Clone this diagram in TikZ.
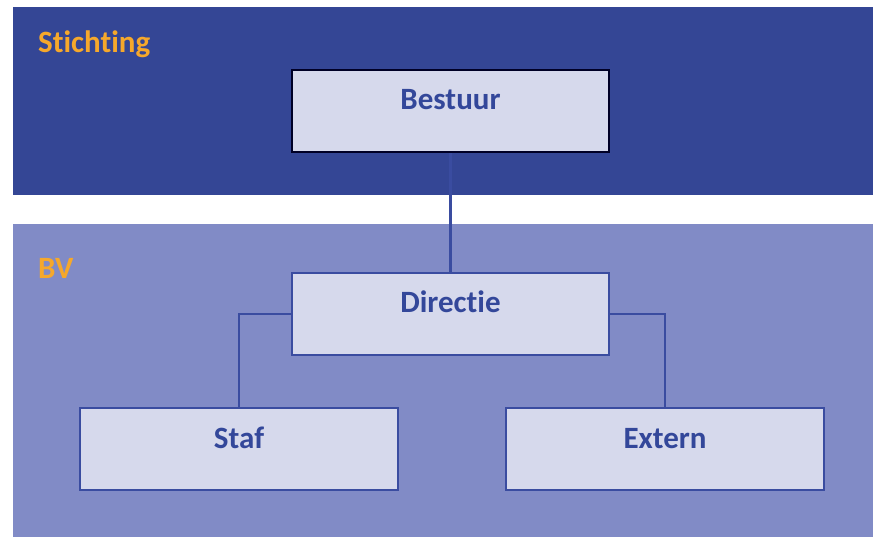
\documentclass[tikz,border=0pt]{standalone}
\usepackage{fontspec}
\setmainfont{Carlito}[Ligatures=NoCommon]
\usepackage{xcolor}
\usetikzlibrary{backgrounds}

\definecolor{bandtop}{HTML}{344695}
\definecolor{bandbottom}{HTML}{818BC6}
\definecolor{boxfill}{HTML}{D6D9EC}
\definecolor{boxtext}{HTML}{33479A}
\definecolor{boxline}{HTML}{3A4CA0}
\definecolor{labelorange}{HTML}{F6A82B}

\tikzset{
    orgbox/.style={draw=boxline, line width=2pt, fill=boxfill, text=boxtext,
        minimum width=317pt, minimum height=82pt, inner sep=0pt,
        text height=20pt, text depth=22pt,
        font=\fontsize{31}{36}\selectfont\bfseries},
    topbox/.style={orgbox, draw=black!85!blue, line width=2.5pt},
    bandlabel/.style={anchor=base west, inner sep=0pt, text=labelorange,
        font=\fontsize{31}{36}\selectfont\bfseries},
    link/.style={draw=boxline, line width=2.2pt}
}

\begin{document}
\begin{tikzpicture}
    \useasboundingbox (0pt, 0pt) rectangle (873pt, -537pt);

    % Nodes
    \node[bandlabel] (stichting) at (38pt, -53pt) {Stichting};
    \node[bandlabel] (bv) at (38pt, -279pt) {BV};

    \node[topbox] (bestuur) at (450.5pt, -111pt) {Bestuur};
    \node[orgbox] (directie) at (450.5pt, -314pt) {Directie};

    \node[orgbox, minimum width=318pt] (staf) at (239pt, -449pt) {Staf};
    \node[orgbox, minimum width=318pt] (extern) at (665pt, -449pt) {Extern};

    \begin{pgfonlayer}{background}
        % Bands
        \fill[bandtop] (13pt, -7pt) rectangle (873pt, -195pt);
        \fill[bandbottom] (13pt, -224pt) rectangle (873pt, -537pt);

        % Lines
        \draw[link] (bestuur.south) -- (directie.north);
        \draw[link] (directie.west) -| (staf.north);
        \draw[link] (directie.east) -| (extern.north);
    \end{pgfonlayer}

\end{tikzpicture}
\end{document}
